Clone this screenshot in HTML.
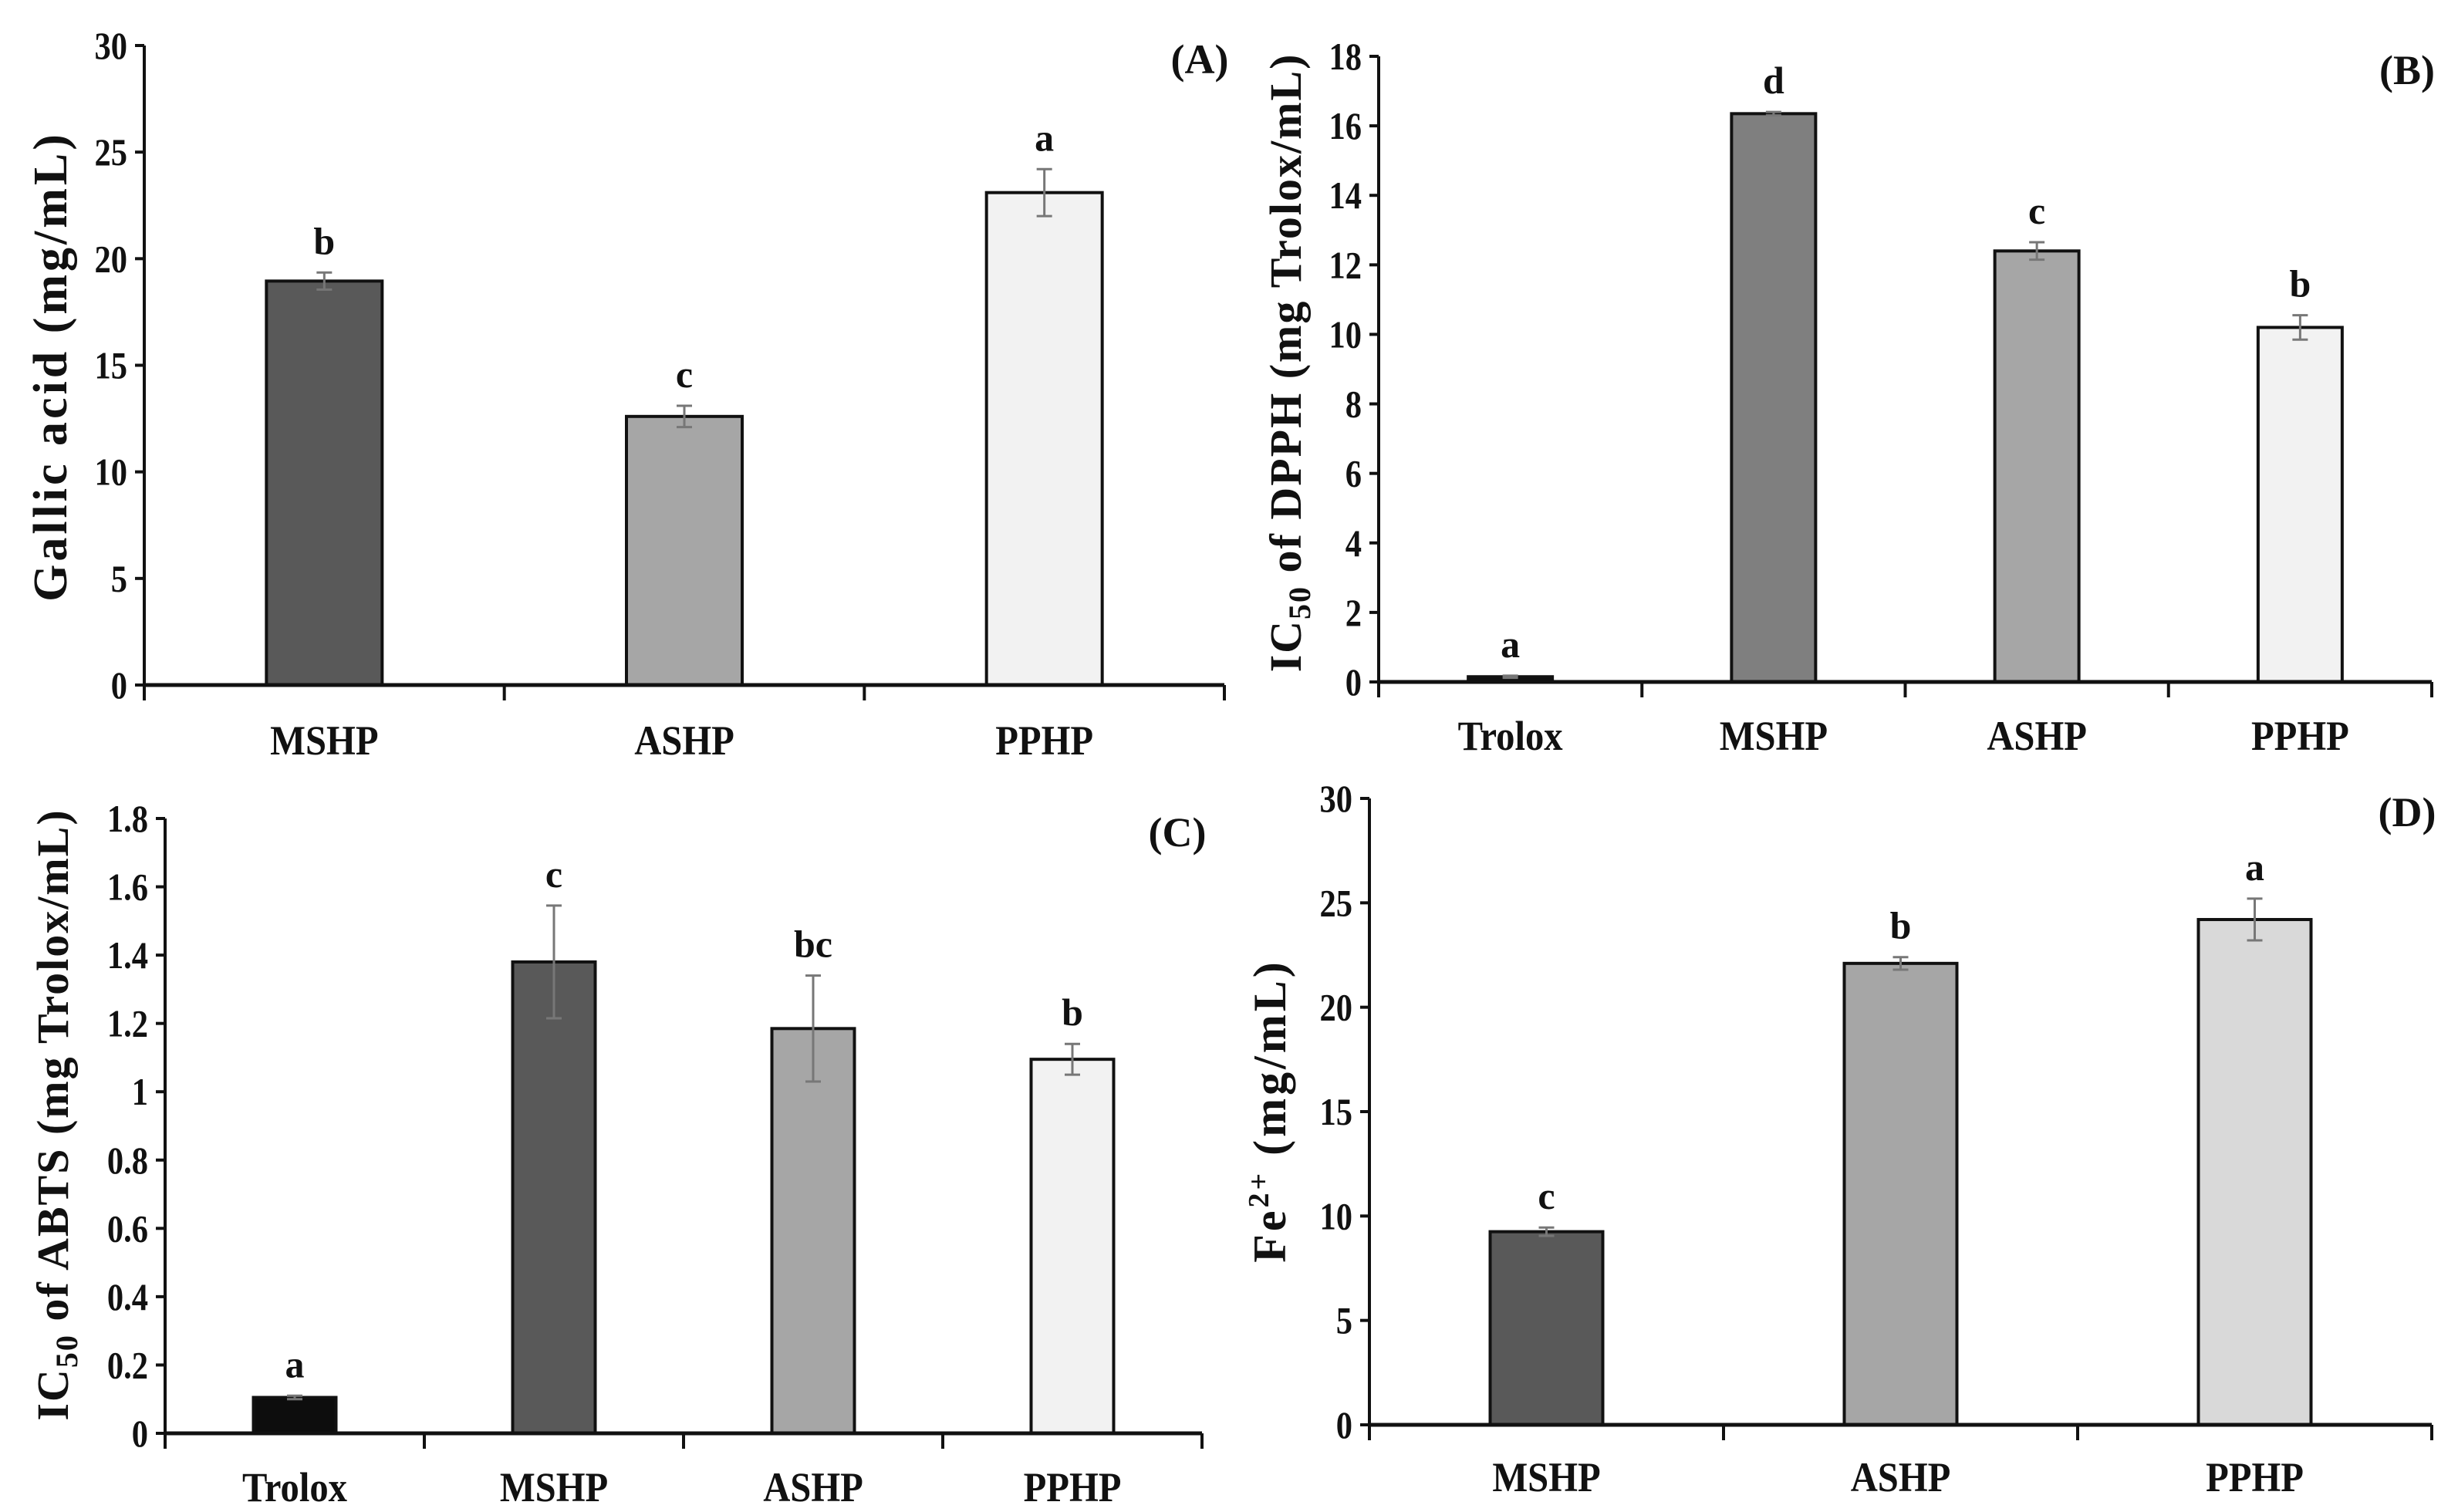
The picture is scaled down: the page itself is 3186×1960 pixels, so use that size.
<!DOCTYPE html>
<html><head><meta charset="utf-8">
<style>
html,body{margin:0;padding:0;background:#fff;}
svg{display:block;}
text{font-family:"Liberation Serif",serif;font-weight:bold;fill:#111;}
</style></head>
<body>
<svg id="chart" width="3186" height="1960" viewBox="0 0 3186 1960" xmlns="http://www.w3.org/2000/svg"></svg>
<script>
// Panel A
const catsA = ["MSHP","ASHP","PPHP"];
const valsA = [18.95,12.6,23.1];
const errA = [0.4,0.5,1.1];
const sigA = ["b","c","a"];
const colA = ["#595959","#a6a6a6","#f2f2f2"];
const ticksA = [0,5,10,15,20,25,30];
// Panel B
const catsB = ["Trolox","MSHP","ASHP","PPHP"];
const valsB = [0.15,16.35,12.4,10.2];
const errB = [0.03,0.05,0.25,0.35];
const sigB = ["a","d","c","b"];
const colB = ["#111111","#7f7f7f","#a6a6a6","#f2f2f2"];
const ticksB = [0,2,4,6,8,10,12,14,16,18];
// Panel C
const catsC = ["Trolox","MSHP","ASHP","PPHP"];
const valsC = [0.105,1.38,1.185,1.095];
const errC = [0.005,0.165,0.155,0.045];
const sigC = ["a","c","bc","b"];
const colC = ["#0d0d0d","#595959","#a6a6a6","#f2f2f2"];
const ticksC = [0,0.2,0.4,0.6,0.8,1,1.2,1.4,1.6,1.8];
const tickLabC = ["0","0.2","0.4","0.6","0.8","1","1.2","1.4","1.6","1.8"];
// Panel D
const catsD = ["MSHP","ASHP","PPHP"];
const valsD = [9.25,22.1,24.2];
const errD = [0.2,0.3,1.0];
const sigD = ["c","b","a"];
const colD = ["#595959","#a6a6a6","#d9d9d9"];
const ticksD = [0,5,10,15,20,25,30];

const svg = document.getElementById('chart');
const NS = "http://www.w3.org/2000/svg";
function mk(tag, attrs, parent){
  const e = document.createElementNS(NS, tag);
  for (const k in attrs) e.setAttribute(k, attrs[k]);
  parent.appendChild(e);
  return e;
}

function panel(p){
  const g = mk('g', {}, svg);
  
  
  const ymax = p.ticks[p.ticks.length-1];
  const yS = v => p.y0 - (v / ymax) * (p.y0 - p.y1);
  const n = p.cats.length;
  const cw = (p.x1 - p.x0) / n;
  const xC = i => p.x0 + cw * (i + 0.5);

  p.ticks.forEach((t, i) => {
    const y = yS(t);
    const tl = mk('line', {x1:p.x0-12, x2:p.x0, y1:y, y2:y, stroke:'#111', 'stroke-width':4}, g);
    
    
    const tx = mk('text', {x:0, y:0, 'text-anchor':'end', 'font-size':50, transform:'translate(' + (p.x0-22) + ',' + (y+17) + ') scale(0.85,1)'}, g);
    
    
    tx.textContent = p.tickLabels ? p.tickLabels[i] : String(t);
  });
  p.vals.forEach((v, i) => {
    const cx = xC(i);
    const top = yS(v);
    const r = mk('rect', {x:cx-p.bw/2, y:top, width:p.bw, height:p.y0-top, fill:p.cols[i], stroke:'#111', 'stroke-width':4}, g);
    
    
    const eh = yS(v + p.errs[i]), el = yS(v - p.errs[i]);
    const eg = mk('g', {stroke:'#777', 'stroke-width':3}, g);
    
    
    mk('line', {x1:cx, x2:cx, y1:eh, y2:el}, eg);
    mk('line', {x1:cx-10, x2:cx+10, y1:eh, y2:eh}, eg);
    mk('line', {x1:cx-10, x2:cx+10, y1:el, y2:el}, eg);
    const s = mk('text', {x:cx, y:eh-24, 'text-anchor':'middle', 'font-size':50}, g);
    
    
    s.textContent = p.sig[i];
    const cl = mk('text', {x:0, y:0, 'text-anchor':'middle', 'font-size':54, transform:'translate(' + cx + ',' + (p.labY+6) + ') scale(0.9,1)'}, g);
    
    
    cl.textContent = p.cats[i];
  });
  const ya = mk('line', {x1:p.x0, x2:p.x0, y1:p.y1, y2:p.y0+2, stroke:'#111', 'stroke-width':4}, g);
  
  
  const xa = mk('line', {x1:p.x0, x2:p.x1, y1:p.y0, y2:p.y0, stroke:'#111', 'stroke-width':5}, g);
  
  
  for (let i = 0; i <= n; i++){
    const x = p.x0 + cw * i;
    const t = mk('line', {x1:x, x2:x, y1:p.y0, y2:p.y0+20, stroke:'#111', 'stroke-width':4}, g);
    
    
  }
  const pl = mk('text', {x:p.x1-32, y:p.y1+36, 'text-anchor':'middle', 'font-size':54}, g);
  
  
  pl.textContent = '(' + p.id + ')';
  const yt = mk('text', {x:0, y:0, 'text-anchor':'middle', 'font-size':p.tf, 'letter-spacing':p.ls, transform:'translate(' + p.tx + ',' + p.ty + ') rotate(-90)'}, g);
  
  
  if (p.ic){
    const a = mk('tspan', {}, yt); a.textContent = 'IC';
    const b = mk('tspan', {'font-size':40, dy:12}, yt); b.textContent = '50';
    const c = mk('tspan', {dy:-12}, yt); c.textContent = ' ' + p.title;
  } else if (p.fe){
    const a = mk('tspan', {}, yt); a.textContent = 'Fe';
    const b = mk('tspan', {'font-size':38, dy:-22}, yt); b.textContent = '2+';
    const c = mk('tspan', {dy:22}, yt); c.textContent = ' (mg/mL)';
  } else {
    yt.textContent = p.title;
  }
}

panel({id:'A', cats:catsA, vals:valsA, errs:errA, sig:sigA, cols:colA, ticks:ticksA,
  x0:187, x1:1587, y0:888, y1:59, bw:150, labY:972, tx:86, ty:475, tf:62, ls:4, title:'Gallic acid (mg/mL)'});
panel({id:'B', cats:catsB, vals:valsB, errs:errB, sig:sigB, cols:colB, ticks:ticksB,
  x0:1787, x1:3152, y0:884, y1:73, bw:109, labY:966, tx:1686, ty:470, tf:58, ls:2, ic:true, title:'of DPPH (mg Trolox/mL)'});
panel({id:'C', cats:catsC, vals:valsC, errs:errC, sig:sigC, cols:colC, ticks:ticksC, tickLabels:tickLabC,
  x0:214, x1:1558, y0:1858, y1:1061, bw:107, labY:1940, tx:88, ty:1445, tf:58, ls:2, ic:true, title:'of ABTS (mg Trolox/mL)'});
panel({id:'D', cats:catsD, vals:valsD, errs:errD, sig:sigD, cols:colD, ticks:ticksD,
  x0:1775, x1:3152, y0:1847, y1:1035, bw:146, labY:1927, tx:1666, ty:1440, tf:60, ls:4, fe:true});
</script>
</body></html>
